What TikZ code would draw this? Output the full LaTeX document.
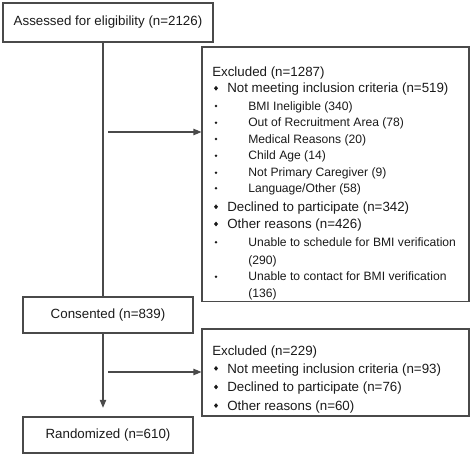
\documentclass[tikz,border=0pt]{standalone}
\usepackage{fontspec}
\setmainfont{Liberation Sans}
\usetikzlibrary{arrows.meta}

\begin{document}
\begin{tikzpicture}[x=0.75pt,y=-0.75pt,font=\fontsize{10}{12}\selectfont]
  \definecolor{flowline}{HTML}{4A4A4A}
  \definecolor{flowtext}{HTML}{1A1A1A}
  \tikzset{
    stagebox/.style={draw=flowline,line width=0.8pt,text=flowtext,inner sep=0pt},
    flowarrow/.style={draw=flowline,line width=0.8pt,-{Triangle[length=6pt,width=4.8pt]}},
    itemtext/.style={anchor=west,text=flowtext,inner sep=0pt,text height=7pt,text depth=0pt},
    subtext/.style={itemtext,font=\fontsize{9.1}{11}\selectfont,text height=6.4pt},
  }

  % Main stages on the left, exclusion boxes on the right.
  \node[stagebox,minimum width=157.5pt,minimum height=29.25pt] (assess) at (108,22.5)
        {Assessed for eligibility (n=2126)};
  \node[stagebox,minimum width=127.5pt,minimum height=27pt] (consent) at (108,315)
        {Consented (n=839)};
  \node[stagebox,minimum width=127.5pt,minimum height=27pt] (random) at (108,435)
        {Randomized (n=610)};
  \node[stagebox,minimum width=200.25pt,minimum height=190.9pt] (excla) at (335.5,174.3) {};
  \node[stagebox,minimum width=200.25pt,minimum height=65.25pt] (exclb) at (335.5,372.5) {};

  % Text of the first exclusion box.
  \foreach \ty/\tx/\sty/\txt [count=\i] in {
    71.7/212/itemtext/{Excluded (n=1287)},
    88.3/227/itemtext/{Not meeting inclusion criteria (n=519)},
    106/248/subtext/{BMI Ineligible (340)},
    122.7/248/subtext/{Out of Recruitment Area (78)},
    139/248/subtext/{Medical Reasons (20)},
    155.7/248/subtext/{Child Age (14)},
    172.7/248/subtext/{Not Primary Caregiver (9)},
    188.3/248/subtext/{Language/Other (58)},
    206.8/227/itemtext/{Declined to participate (n=342)},
    224/227/itemtext/{Other reasons (n=426)},
    242.3/248/subtext/{Unable to schedule for BMI verification},
    260/248/subtext/{(290)},
    276.7/248/subtext/{Unable to contact for BMI verification},
    293.3/248/subtext/{(136)}
  }{
    \node[\sty] (exa-\i) at (\tx,\ty) {\txt};
  }

  % Text of the second exclusion box.
  \foreach \ty/\tx/\txt [count=\i] in {
    351/212/{Excluded (n=229)},
    368.4/227/{Not meeting inclusion criteria (n=93)},
    387/227/{Declined to participate (n=76)},
    405.6/227/{Other reasons (n=60)}
  }{
    \node[itemtext] (exb-\i) at (\tx,\ty) {\txt};
  }

  % Bullets: diamonds for reasons, dots for sub-reasons.
  \foreach \ty in {88.3,206.8,224,368.4,387,405.6}{
    \fill[flowtext] (216,\ty) +(0,-2.4) -- +(2,0) -- +(0,2.4) -- +(-2,0) -- cycle;
  }
  \foreach \ty in {106,122.7,139,155.7,172.7,188.3,242.3,276.7}{
    \fill[flowtext] (216,\ty) circle (1pt);
  }

  % Connectors.
  \coordinate (spine) at (103,0);
  \coordinate (tapa) at (108,132);
  \coordinate (tapb) at (108,372);
  \draw[flowline,line width=0.8pt] (assess.south -| spine) -- (consent.north -| spine);
  \draw[flowarrow,shorten >=6.5pt] (consent.south -| spine) -- (random.north -| spine);
  \draw[flowarrow] (tapa) -- (tapa -| excla.west);
  \draw[flowarrow] (tapb) -- (tapb -| exclb.west);

  \path[use as bounding box] (0,0) rectangle (472,456);
\end{tikzpicture}
\end{document}
